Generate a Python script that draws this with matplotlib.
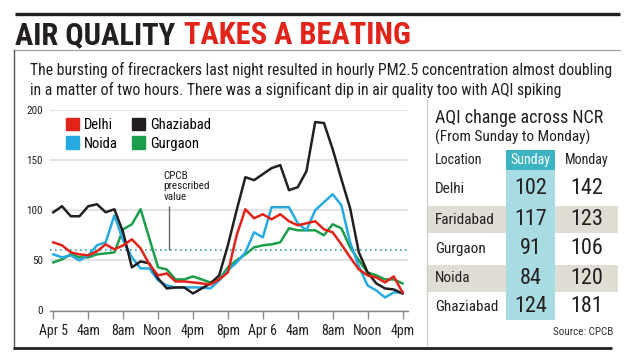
import numpy as np
import matplotlib
matplotlib.use("Agg")
import matplotlib.pyplot as plt
import matplotlib.font_manager as fm
import matplotlib.transforms as mtransforms
from matplotlib.patches import Rectangle, Patch

# hourly PM2.5 readings, Apr 5 00:00 -> Apr 6 16:00
hours = np.arange(41)
delhi = [68, 65, 58, 56, 55, 59, 66, 61, 65, 71, 62, 46, 35, 37, 29, 29, 28, 27, 26, 31,
         38, 75, 101, 92, 96, 91, 96, 89, 85, 87, 89, 81, 78, 66, 53, 41, 35, 33, 28, 34, 18]
noida = [56, 53, 55, 50, 55, 65, 68, 95, 70, 53, 42, 42, 30, 25, 23, 23, 23, 23, 22, 30,
         40, 48, 58, 78, 73, 103, 103, 103, 87, 80, 100, 108, 116, 105, 68, 44, 25, 20, 13, 18, 18]
ghaziabad = [98, 104, 94, 94, 104, 106, 98, 101, 78, 43, 49, 47, 32, 22, 23, 23, 17, 22, 27, 35,
             65, 100, 133, 130, 136, 142, 145, 120, 123, 139, 188, 187, 161, 131, 102, 58, 38, 27, 22, 21, 17]
gurgaon = [48, 51, 56, 53, 53, 56, 57, 58, 81, 86, 101, 72, 43, 41, 31, 31, 34, 31, 28, 31,
           43, 50, 56, 63, 65, 66, 68, 82, 80, 80, 80, 75, 86, 82, 63, 50, 38, 35, 31, 31, 27]
cpcb_limit = 60

tick_hours = list(range(0, 41, 4))
tick_labels = ["Apr 5", "4am", "8am", "Noon", "4pm", "8pm", "Apr 6", "4am", "8am", "Noon", "4pm"]

# AQI table
locations = ["Delhi", "Faridabad", "Gurgaon", "Noida", "Ghaziabad"]
aqi_sunday = [102, 117, 91, 84, 124]
aqi_monday = [142, 123, 106, 120, 181]

RED = "#e2231a"
BLUE = "#27aae1"
GREEN = "#1b9e4b"
BLACK = "#231f20"
TEAL = "#3db3c2"
TEAL_LIGHT = "#a9dbe3"
STRIPE = "#dfddd4"

# pick a condensed face if one is installed
names = {f.name for f in fm.fontManager.ttflist}
cond_stretch = {(f.name, f.stretch) for f in fm.fontManager.ttflist}
if "Roboto Condensed" in names:
    FONT = dict(family="Roboto Condensed")
elif "Liberation Sans Narrow" in names:
    FONT = dict(family="Liberation Sans Narrow")
elif ("DejaVu Sans", "condensed") in cond_stretch or ("DejaVu Sans", "semi-condensed") in cond_stretch:
    FONT = dict(family="DejaVu Sans", fontstretch="condensed")
else:
    FONT = dict(family="Roboto")

fig = plt.figure(figsize=(6.35, 3.62), dpi=100)
W, H = 635, 362

# overlay in pixel coords for headline, frame and table
ov = fig.add_axes([0, 0, 1, 1])
ov.set_xlim(0, W)
ov.set_ylim(H, 0)
ov.axis("off")

ov.plot([15, 620], [14, 14], color=BLACK, lw=2.4, solid_capstyle="butt")
t1 = ov.text(15, 35, "AIR QUALITY", color=BLACK, fontsize=22, fontweight="black",
             va="center", ha="left", **FONT)
bb = t1.get_window_extent(fig.canvas.get_renderer())
t2 = ov.text(bb.x1 + 9, 35, "TAKES A BEATING", color=RED, fontsize=22, fontweight="black",
             va="center", ha="left", **FONT)
t2.set_transform(mtransforms.blended_transform_factory(mtransforms.IdentityTransform(), ov.transData))
ov.plot([14, 620], [50, 50], color="#9a9a9a", lw=0.8)
ov.plot([14, 14], [50, 348], color="#555555", lw=1.0)
ov.plot([13, 612], [348, 348], color=BLACK, lw=2.0, solid_capstyle="butt")

ov.text(30, 70, "The bursting of firecrackers last night resulted in hourly PM2.5 concentration almost doubling",
        fontsize=11.3, va="center", ha="left", color=BLACK, **FONT)
ov.text(30, 90, "in a matter of two hours. There was a significant dip in air quality too with AQI spiking",
        fontsize=11.3, va="center", ha="left", color=BLACK, **FONT)

# table
ov.plot([427, 427], [100, 345], color="#cfcfcf", lw=1.0)
ov.text(435, 118, "AQI change across NCR", fontsize=13, va="center", ha="left", color=BLACK, **FONT)
ov.text(435, 137, "(From Sunday to Monday)", fontsize=11, va="center", ha="left", color=BLACK, **FONT)
row_y = [189, 219.5, 249, 278.5, 307]
for i, y in enumerate(row_y):
    if i % 2 == 1:
        ov.add_patch(Rectangle((428, y - 13.5), 190, 27, color=STRIPE, lw=0))
ov.add_patch(Rectangle((506, 150), 49, 20, color=TEAL, lw=0))
ov.add_patch(Rectangle((506, 170), 49, 150, color=TEAL_LIGHT, lw=0))
ov.text(435, 160, "Location", fontsize=10, va="center", ha="left", color=BLACK, **FONT)
ov.text(530.5, 160, "Sunday", fontsize=10, va="center", ha="center", color="white", **FONT)
ov.text(587, 160, "Monday", fontsize=10, va="center", ha="center", color=BLACK, **FONT)
for loc, s, m, y in zip(locations, aqi_sunday, aqi_monday, row_y):
    ov.text(435, y, loc, fontsize=11, va="center", ha="left", color=BLACK, **FONT)
    ov.text(530.5, y, str(s), fontsize=16, va="center", ha="center", color=BLACK, **FONT)
    ov.text(587, y, str(m), fontsize=16, va="center", ha="center", color=BLACK, **FONT)
ov.text(613, 332, "Source: CPCB", fontsize=8, va="center", ha="right", color="#333333", **FONT)

# line chart
px_per_hr = 8.73
x0 = 53.3 - 0.4 * px_per_hr
ax_w = 41 * px_per_hr
ax = fig.add_axes([x0 / W, (H - 310.5) / H, ax_w / W, 200.5 / H])
ax.set_xlim(-0.4, 40.6)
ax.set_ylim(0, 200)
ax.patch.set_alpha(0)

ax.set_yticks([0, 50, 100, 150, 200])
ax.yaxis.grid(True, color="#e4e4e4", lw=1.5)
ax.set_axisbelow(True)
ax.set_xticks(tick_hours)
ax.set_xticklabels(tick_labels)
for s in ["top", "right", "left"]:
    ax.spines[s].set_visible(False)
ax.spines["bottom"].set_color("#8a8a8a")
ax.spines["bottom"].set_linewidth(1.0)
ax.tick_params(axis="x", length=6, width=1.0, color="#8a8a8a", pad=4, labelsize=10)
ax.tick_params(axis="y", length=0, pad=5, labelsize=8)
for lab in ax.get_xticklabels() + ax.get_yticklabels():
    lab.set_fontfamily(FONT["family"])
    if "fontstretch" in FONT:
        lab.set_fontstretch(FONT["fontstretch"])
    lab.set_color(BLACK)

ax.axhline(cpcb_limit, color="#3d9ea6", lw=1.2, ls=(0, (1, 2)))
ax.plot(hours, gurgaon, color=GREEN, lw=1.8)
ax.plot(hours, noida, color=BLUE, lw=1.8)
ax.plot(hours, ghaziabad, color=BLACK, lw=1.8)
ax.plot(hours, delhi, color=RED, lw=1.8)

ax.text(12.6, 124, "CPCB\nprescribed\nvalue", fontsize=8, va="center", ha="left",
        linespacing=1.05, color=BLACK, **FONT)
ax.vlines(13.2, cpcb_limit, 104, color="#666666", lw=1.0)

handles = [Patch(color=RED), Patch(color=BLUE), Patch(color=BLACK), Patch(color=GREEN)]
leg_prop = dict(size=10.5, family=FONT["family"])
if "fontstretch" in FONT:
    leg_prop["stretch"] = FONT["fontstretch"]
leg = ax.legend(handles, ["Delhi", "Noida", "Ghaziabad", "Gurgaon"], ncol=2,
                loc="upper left", bbox_to_anchor=((66 - x0) / ax_w, (310.5 - 118) / 200.5),
                frameon=False, borderpad=0, borderaxespad=0,
                handlelength=0.9, handleheight=0.9, handletextpad=0.35,
                columnspacing=0.95, labelspacing=0.3, prop=leg_prop)

fig.savefig("out.png", dpi=100)
